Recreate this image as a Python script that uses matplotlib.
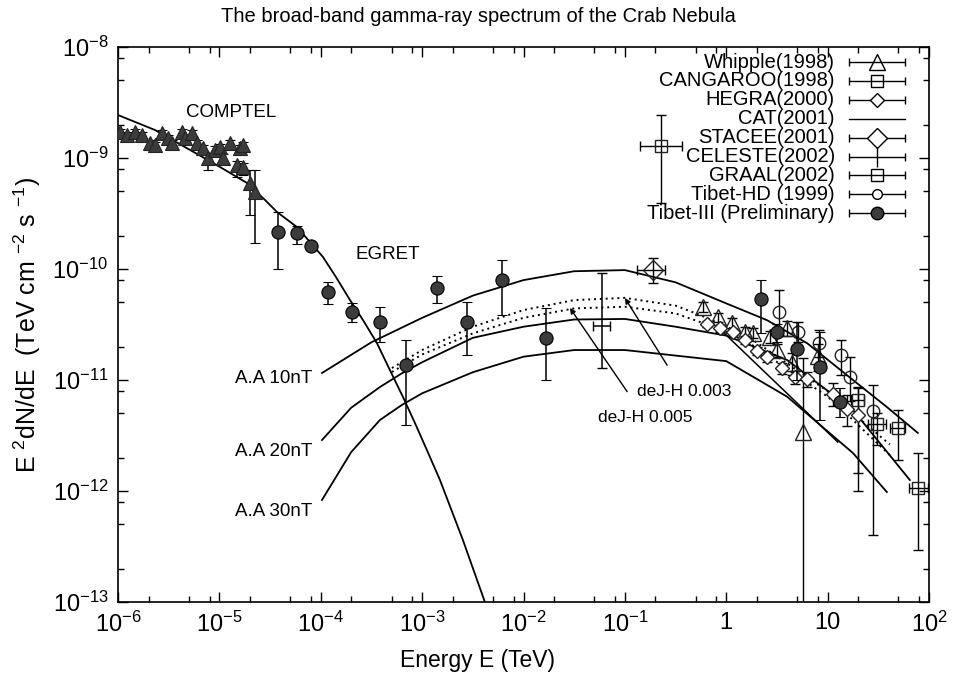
import numpy as np
import matplotlib
matplotlib.use('Agg')
import matplotlib.pyplot as plt
from matplotlib.ticker import LogLocator, NullFormatter

plt.rcParams['font.family'] = ['Liberation Sans', 'DejaVu Sans']
plt.rcParams['mathtext.fontset'] = 'custom'
plt.rcParams['mathtext.rm'] = 'Liberation Sans'
plt.rcParams['mathtext.it'] = 'Liberation Sans:italic'
plt.rcParams['mathtext.bf'] = 'Liberation Sans:bold'

###############################################################################
# Data (curves as log10 E / log10 F pairs)
###############################################################################
# Synchrotron model curve -----------------------------------------------------
syncLE = [-6.0, -5.635, -4.994, -4.728, -4.55, -4.432, -4.235, -3.978, -3.85,
          -3.712, -3.584, -3.446, -3.318, -3.189, -3.071, -2.953, -2.824,
          -2.598, -2.381]
syncLF = [-8.613, -8.748, -9.081, -9.225, -9.378, -9.486, -9.622, -9.892,
          -10.072, -10.279, -10.459, -10.667, -10.910, -11.153, -11.387,
          -11.631, -11.901, -12.441, -13.0]
# Inverse Compton models (A.A 10/20/30 nT) ------------------------------------
aa10LE = [-3.988, -3.5, -3.0, -2.5, -2.0, -1.5, -1.0, -0.5, 0.0, 0.4, 0.8,
          1.25, 1.584, 1.89]
aa10LF = [-10.937, -10.66, -10.44, -10.24, -10.10, -10.02, -10.01, -10.12,
          -10.31, -10.46, -10.67, -11.0, -11.243, -11.477]
aa20LE = [-3.988, -3.7, -3.416, -3.2, -3.0, -2.5, -2.0, -1.5, -1.0, -0.5, 0.0,
          0.6, 1.25, 1.811]
aa20LF = [-11.541, -11.25, -11.063, -10.94, -10.84, -10.62, -10.52, -10.455,
          -10.45, -10.52, -10.60, -10.82, -11.27, -11.901]
aa30LE = [-3.988, -3.7, -3.416, -3.2, -3.0, -2.5, -2.0, -1.5, -1.0, -0.5, 0.0,
          0.6, 1.25, 1.584]
aa30LF = [-12.081, -11.65, -11.36, -11.225, -11.12, -10.93, -10.79, -10.73,
          -10.73, -10.78, -10.83, -11.15, -11.658, -12.009]
# de Jager-Harding models (dotted) ---------------------------------------------
dj3LE = [-3.298, -3.0, -2.5, -2.0, -1.5, -1.0, -0.5, -0.26, 0.2, 0.6, 1.0,
         1.249, 1.613]
dj3LF = [-10.892, -10.73, -10.52, -10.37, -10.28, -10.26, -10.33, -10.414,
         -10.60, -10.85, -11.10, -11.30, -11.58]
dj5LE = [-3.298, -3.0, -2.5, -2.0, -1.5, -1.0, -0.5, -0.26, 0.2, 0.6, 1.0,
         1.249, 1.613]
dj5LF = [-10.928, -10.77, -10.58, -10.44, -10.355, -10.34, -10.40, -10.477,
         -10.65, -10.90, -11.15, -11.36, -11.676]
# CAT (2001) fit line ---------------------------------------------------------
catE = [0.807, 12.6]
catF = [3.06e-11, 2.76e-12]
# COMPTEL ---------------------------------------------------------------------
comE = np.array([1.05e-6, 1.23e-6, 1.47e-6, 1.73e-6, 2.07e-6, 2.32e-6, 2.72e-6,
                 3.11e-6, 3.41e-6, 4.28e-6, 4.58e-6, 5.37e-6, 6.01e-6, 6.89e-6,
                 7.72e-6, 9.05e-6, 1.01e-5, 1.09e-5, 1.27e-5, 1.49e-5, 1.60e-5,
                 1.71e-5, 1.71e-5, 2.0e-5, 2.24e-5])
comF = np.array([1.71e-9, 1.61e-9, 1.71e-9, 1.61e-9, 1.36e-9, 1.31e-9, 1.68e-9,
                 1.51e-9, 1.36e-9, 1.71e-9, 1.51e-9, 1.68e-9, 1.36e-9, 1.23e-9,
                 1.0e-9, 1.18e-9, 1.26e-9, 1.0e-9, 1.36e-9, 8.65e-10, 1.23e-9,
                 1.31e-9, 8.3e-10, 5.96e-10, 4.94e-10])
comLo = np.array([1.6e-9, 1.5e-9, 1.6e-9, 1.5e-9, 1.27e-9, 1.22e-9, 1.57e-9,
                  1.41e-9, 1.27e-9, 1.6e-9, 1.41e-9, 1.57e-9, 1.27e-9, 1.14e-9,
                  7.8e-10, 1.1e-9, 1.17e-9, 9.0e-10, 1.26e-9, 6.75e-10, 1.14e-9,
                  1.22e-9, 7.0e-10, 3.06e-10, 1.71e-10])
comHi = np.array([1.83e-9, 1.72e-9, 1.83e-9, 1.72e-9, 1.46e-9, 1.4e-9, 1.8e-9,
                  1.62e-9, 1.46e-9, 1.83e-9, 1.62e-9, 1.8e-9, 1.46e-9, 1.32e-9,
                  1.08e-9, 1.27e-9, 1.35e-9, 1.08e-9, 1.46e-9, 9.3e-10, 1.32e-9,
                  1.4e-9, 9.0e-10, 7.8e-10, 7.8e-10])
# EGRET + Tibet-III (filled circles) --------------------------------------------
filE = np.array([3.79e-5, 5.82e-5, 8.0e-5, 1.18e-4, 2.03e-4, 3.84e-4, 6.92e-4,
                 1.4e-3, 2.77e-3, 6.12e-3, 1.66e-2,
                 2.19, 3.15, 4.97, 8.38, 13.2])
filF = np.array([2.15e-10, 2.11e-10, 1.61e-10, 6.2e-11, 4.1e-11, 3.33e-11,
                 1.36e-11, 6.75e-11, 3.33e-11, 7.96e-11, 2.39e-11,
                 5.37e-11, 2.71e-11, 1.9e-11, 1.31e-11, 6.34e-12])
filLo = np.array([1.0e-10, 1.68e-10, 1.5e-10, 4.8e-11, 3.3e-11, 2.2e-11,
                  3.9e-12, 4.94e-11, 1.68e-11, 3.85e-11, 1.0e-11,
                  2.65e-11, 2.2e-11, 1.0e-11, 4.4e-12, 4.6e-12])
filHi = np.array([3.27e-10, 2.44e-10, 1.73e-10, 7.6e-11, 4.9e-11, 4.55e-11,
                  2.29e-11, 8.65e-11, 5.05e-11, 1.2e-10, 4.46e-11,
                  7.96e-11, 3.2e-11, 3.33e-11, 2.71e-11, 8.4e-12])
# Whipple (1998) ----------------------------------------------------------------
whiE = np.array([0.587, 0.826, 1.135, 1.52, 1.83, 2.69, 3.15, 3.96, 4.44, 8.0,
                 5.69])
whiF = np.array([4.55e-11, 3.70e-11, 3.27e-11, 2.71e-11, 2.65e-11, 2.44e-11,
                 1.86e-11, 2.94e-11, 1.42e-11, 1.64e-11, 3.4e-12])
whiLo = np.array([4.1e-11, 3.35e-11, 2.95e-11, 2.45e-11, 2.38e-11, 2.15e-11,
                  1.62e-11, 2.5e-11, 1.1e-11, 1.2e-11, 1e-14])
whiHi = np.array([5.0e-11, 4.05e-11, 3.6e-11, 2.98e-11, 2.92e-11, 2.75e-11,
                  2.1e-11, 3.4e-11, 1.75e-11, 2.1e-11, 1.58e-11])
# HEGRA (2000) ------------------------------------------------------------------
hegE = np.array([0.644, 0.865, 1.16, 1.52, 2.0, 2.51, 3.53, 4.75, 6.24, 11.2,
                 15.5, 19.9])
hegF = np.array([3.2e-11, 2.94e-11, 2.71e-11, 2.29e-11, 1.82e-11, 1.61e-11,
                 1.28e-11, 1.06e-11, 1.02e-11, 7.48e-12, 5.48e-12, 4.84e-12])
hegLo = hegF * np.array([.93, .93, .93, .92, .92, .9, .88, .86, .84, .78, .7,
                         .3])
hegHi = hegF * np.array([1.07, 1.07, 1.07, 1.08, 1.08, 1.1, 1.12, 1.14, 1.16,
                         1.25, 1.35, 1.8])
# Tibet-HD (1999) ---------------------------------------------------------------
thdE = np.array([3.30, 5.08, 8.19, 13.5, 16.6, 27.9])
thdF = np.array([4.1e-11, 2.71e-11, 2.16e-11, 1.68e-11, 1.06e-11, 5.26e-12])
thdLo = np.array([2.54e-11, 2.2e-11, 1.6e-11, 1.1e-11, 6.5e-12, 4.0e-13])
thdHi = np.array([6.5e-11, 3.3e-11, 2.8e-11, 2.3e-11, 1.6e-11, 9.0e-12])
# CANGAROO (1998) ---------------------------------------------------------------
canE = np.array([19.9, 30.5, 49.2, 77.6])
canF = np.array([6.6e-12, 4.0e-12, 3.7e-12, 1.06e-12])
canLo = np.array([1.0e-12, 2.6e-12, 1.9e-12, 2.95e-13])
canHi = np.array([8.5e-12, 5.0e-12, 5.4e-12, 2.2e-12])
canELo = np.array([17.0, 25.0, 41.0, 64.0])
canEHi = np.array([23.0, 38.0, 58.0, 97.0])
# STACEE (2001), CELESTE (2002), GRAAL (2002) -----------------------------------
staE, staF, staLo, staHi, staELo, staEHi = 0.189, 9.8e-11, 7.48e-11, 1.26e-10, 0.131, 0.248
celE, celF, celLo, celHi, celELo, celEHi = 0.0593, 3.06e-11, 1.28e-11, 9.2e-11, 0.0483, 0.0711
graE, graF, graLo, graHi, graELo, graEHi = 0.226, 1.29e-9, 3.94e-10, 2.44e-9, 0.141, 0.365

legNames = ['Whipple(1998)', 'CANGAROO(1998)', 'HEGRA(2000)', 'CAT(2001)',
            'STACEE(2001)', 'CELESTE(2002)', 'GRAAL(2002)', 'Tibet-HD (1999)',
            'Tibet-III (Preliminary)']
xTicks = [1e-6, 1e-5, 1e-4, 1e-3, 1e-2, 1e-1, 1, 10, 100]
xLabels = ['$10^{-6}$', '$10^{-5}$', '$10^{-4}$', '$10^{-3}$', '$10^{-2}$',
           '$10^{-1}$', '1', '10', '$10^{2}$']
yTicks = [1e-13, 1e-12, 1e-11, 1e-10, 1e-9, 1e-8]
yLabels = ['$10^{-13}$', '$10^{-12}$', '$10^{-11}$', '$10^{-10}$',
           '$10^{-9}$', '$10^{-8}$']

###############################################################################
# Plot
###############################################################################
(W, H) = (956, 683)
fig = plt.figure(figsize=(W/100, H/100), dpi=100)
ax = fig.add_axes([118/W, 1-602/H, (929-118)/W, (602-47)/H])
ax.set_xscale('log'); ax.set_yscale('log')
ax.set_xlim(1e-6, 1e2); ax.set_ylim(1e-13, 1e-8)

(lw, fill, cs) = (1.3, '#3c3c3c', 3.5)
p10 = lambda v: np.power(10.0, v)
# Model curves ----------------------------------------------------------------
ax.plot(p10(syncLE), p10(syncLF), color='k', lw=lw, zorder=2)
for (e, f) in [(aa10LE, aa10LF), (aa20LE, aa20LF), (aa30LE, aa30LF)]:
    ax.plot(p10(e), p10(f), color='k', lw=lw, zorder=2)
for (e, f) in [(dj3LE, dj3LF), (dj5LE, dj5LF)]:
    ax.plot(p10(e), p10(f), color='k', lw=1.4, ls=(0, (1, 2)), zorder=2)
ax.plot(catE, catF, color='k', lw=1.1, zorder=2)
# Data points -----------------------------------------------------------------
def yerr(f, lo, hi):
    return [np.asarray(f)-np.asarray(lo), np.asarray(hi)-np.asarray(f)]

ax.errorbar(comE, comF, yerr=yerr(comF, comLo, comHi), fmt='^', ms=10.5,
            mfc=fill, mec='#222222', mew=0.8, ecolor='k', elinewidth=1.1,
            capsize=cs, zorder=4)
ax.errorbar(filE, filF, yerr=yerr(filF, filLo, filHi), fmt='o', ms=9.5,
            mfc=fill, mec='k', mew=0.8, ecolor='k', elinewidth=1.1,
            capsize=cs, zorder=5)
ax.errorbar(whiE, whiF, yerr=yerr(whiF, whiLo, whiHi), fmt='^', ms=11,
            mfc='none', mec='#222222', mew=1.0, ecolor='k', elinewidth=1.0,
            capsize=cs, zorder=4)
ax.errorbar(hegE, hegF, yerr=yerr(hegF, hegLo, hegHi), fmt='D', ms=7,
            mfc='white', mec='#222222', mew=1.0, ecolor='k', elinewidth=1.0,
            capsize=cs, zorder=4)
ax.errorbar(thdE, thdF, yerr=yerr(thdF, thdLo, thdHi), fmt='o', ms=9,
            mfc='none', mec='#222222', mew=1.0, ecolor='k', elinewidth=1.0,
            capsize=cs, zorder=4)
ax.errorbar(canE, canF, yerr=yerr(canF, canLo, canHi),
            xerr=yerr(canE, canELo, canEHi), fmt='s', ms=8,
            mfc='none', mec='#222222', mew=1.0, ecolor='k', elinewidth=1.0,
            capsize=cs, zorder=4)
ax.errorbar([staE], [staF], yerr=yerr([staF], [staLo], [staHi]),
            xerr=yerr([staE], [staELo], [staEHi]), fmt='D', ms=10,
            mfc='none', mec='#222222', mew=1.0, ecolor='k', elinewidth=1.0,
            capsize=cs, zorder=4)
ax.errorbar([celE], [celF], yerr=yerr([celF], [celLo], [celHi]),
            xerr=yerr([celE], [celELo], [celEHi]), fmt='none',
            ecolor='k', elinewidth=1.1, capsize=cs, zorder=4)
ax.errorbar([graE], [graF], yerr=yerr([graF], [graLo], [graHi]),
            xerr=yerr([graE], [graELo], [graEHi]), fmt='s', ms=8,
            mfc='none', mec='#222222', mew=1.0, ecolor='k', elinewidth=1.0,
            capsize=cs, zorder=4)
# Annotations -----------------------------------------------------------------
tfs = 13.5
ax.text(1.3e-5, 2.55e-9, 'COMPTEL', fontsize=tfs, ha='center', va='center')
ax.text(4.6e-4, 1.36e-10, 'EGRET', fontsize=tfs, ha='center', va='center')
for (lab, fy) in [('A.A 10nT', 1.04e-11), ('A.A 20nT', 2.29e-12),
                  ('A.A 30nT', 6.5e-13)]:
    ax.text(8.2e-5, fy, lab, fontsize=tfs, ha='right', va='center')
ax.annotate('deJ-H 0.003', xy=(0.1, 5.48e-11), xytext=(0.131, 7.8e-12),
            fontsize=12.5, va='center', ha='left',
            arrowprops=dict(arrowstyle='-|>', color='k', lw=1.0,
                            mutation_scale=8, shrinkA=14, shrinkB=0))
ax.annotate('deJ-H 0.005', xy=(0.0287, 4.46e-11), xytext=(0.0542, 4.55e-12),
            fontsize=12.5, va='center', ha='left',
            arrowprops=dict(arrowstyle='-|>', color='k', lw=1.0,
                            mutation_scale=8, shrinkA=14, shrinkB=0))
# Axes styling ----------------------------------------------------------------
ax.set_xticks(xTicks); ax.set_xticklabels(xLabels)
ax.set_yticks(yTicks); ax.set_yticklabels(yLabels)
for axis in (ax.xaxis, ax.yaxis):
    axis.set_minor_locator(LogLocator(base=10, subs=(2, 5, 8), numticks=20))
    axis.set_minor_formatter(NullFormatter())
ax.tick_params(which='both', direction='in', top=True, right=True,
               colors='k', width=1.0)
ax.tick_params(which='major', length=7, labelsize=17, pad=7)
ax.tick_params(which='minor', length=4)
for s in ax.spines.values():
    s.set_linewidth(1.2)
ax.set_ylabel('E $^{2}$dN/dE  (TeV cm $^{-2}$ s $^{-1}$)', fontsize=18,
              labelpad=7)
fig.text(478/W, 1-660/H, 'Energy E (TeV)', fontsize=16.5,
         ha='center', va='center')
fig.text(478/W, 1-17/H, 'The broad-band gamma-ray spectrum of the Crab Nebula',
         fontsize=14.5, ha='center', va='center')
# Legend (drawn by hand, pixel layout) ----------------------------------------
lax = fig.add_axes([0, 0, 1, 1], zorder=10)
lax.set_xlim(0, W); lax.set_ylim(H, 0); lax.axis('off')
rows = 62 + 18.9*np.arange(len(legNames))
legSty = [('^', 11, 'none'), ('s', 8, 'none'), ('D', 7, 'white'),
          (None, 0, 'none'), ('D', 10, 'white'), ('|', 14, 'none'),
          ('s', 8, 'none'), ('o', 7, 'white'), ('o', 9, fill)]
for (name, y, (m, ms, mfc)) in zip(legNames, rows, legSty):
    lax.text(835, y, name, fontsize=14.5, ha='right', va='center')
    if m is None:
        lax.plot([849, 905], [y, y], color='k', lw=1.0)
        continue
    lax.errorbar([877], [y], xerr=[[28], [28]], fmt=m, ms=ms, mfc=mfc,
                 mec='k', mew=1.0, ecolor='k', elinewidth=1.0, capsize=3)

fig.savefig('out.png', dpi=100, facecolor='w')
